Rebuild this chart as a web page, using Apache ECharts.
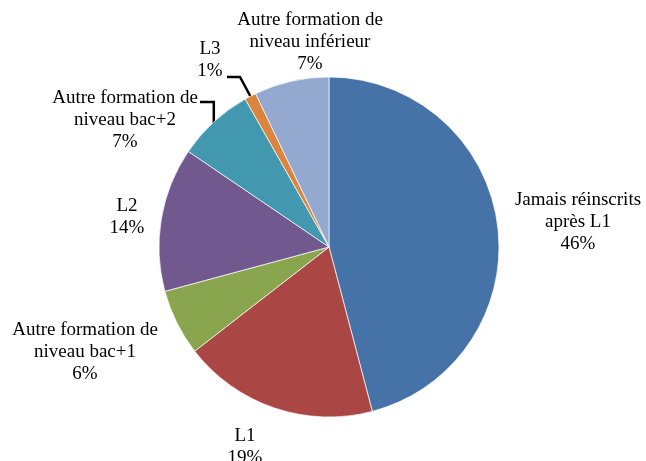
<!DOCTYPE html>
<html>
<head>
<meta charset="utf-8">
<script src="https://cdn.jsdelivr.net/npm/echarts@6/dist/echarts.min.js"></script>
<style>
  html, body { margin: 0; padding: 0; background: #fff; }
  #main { width: 646px; height: 461px; }
</style>
</head>
<body>
<div id="main"></div>
<script>
// parts, clockwise from 12 o'clock
var names = [
  'Jamais réinscrits\naprès L1',
  'L1',
  'Autre formation de\nniveau bac+1',
  'L2',
  'Autre formation de\nniveau bac+2',
  'L3',
  'Autre formation de\nniveau inférieur'
];
var values = [45.9, 18.6, 6.3, 13.7, 7.3, 1.1, 7.1];
var colors = ['#4572A7', '#AA4643', '#89A54E', '#71588F', '#4198AF', '#DB843D', '#93A9CF'];

// where each label sits (centre of the text block)
var labelPos = [
  [578, 222], [245, 447], [85, 352], [127, 217], [125, 120], [210, 60], [310, 42]
];
var withLine = [4, 5];

var chart = echarts.init(document.getElementById('main'));

var data = names.map(function (n, i) {
  var item = { name: n, value: values[i], itemStyle: { color: colors[i] } };
  if (withLine.indexOf(i) >= 0) {
    item.labelLine = { show: true };
  }
  return item;
});

var option = {
  animation: false,
  series: [{
    type: 'pie',
    center: [329, 247],
    radius: 170,
    startAngle: 90,
    clockwise: true,
    avoidLabelOverlap: false,
    itemStyle: { borderColor: '#ffffff', borderWidth: 0.7 },
    label: {
      show: true,
      position: 'outside',
      fontFamily: 'Liberation Serif',
      fontSize: 19,
      lineHeight: 22,
      color: '#000',
      align: 'center',
      formatter: function (p) {
        return p.name + '\n' + Math.round(p.percent) + '%';
      }
    },
    labelLine: {
      show: false,
      lineStyle: { color: '#000', width: 2.5 }
    },
    labelLayout: function (p) {
      var i = p.dataIndex;
      var res = {
        x: labelPos[i][0],
        y: labelPos[i][1],
        align: 'center',
        verticalAlign: 'middle'
      };
      if (withLine.indexOf(i) >= 0 && p.labelLinePoints) {
        var a = p.labelLinePoints[0];
        if (i === 5) {
          res.labelLinePoints = [[a[0], a[1]], [240, 77], [227, 77]];
        } else {
          res.labelLinePoints = [[a[0], a[1] + 2], [a[0], 102], [200, 102]];
        }
      }
      return res;
    },
    data: data
  }]
};
chart.setOption(option);
</script>
</body>
</html>
